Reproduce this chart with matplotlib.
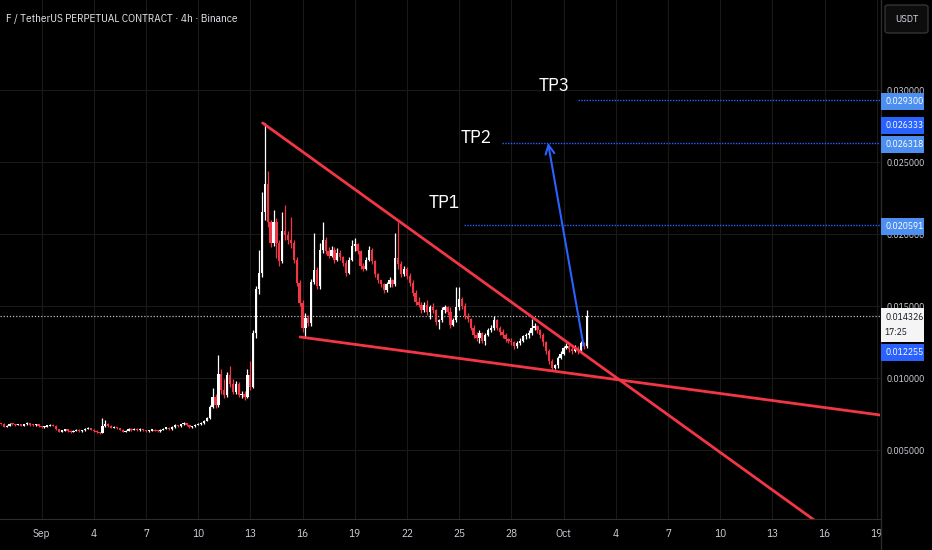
import numpy as np
import pandas as pd
import matplotlib
matplotlib.use("Agg")
import matplotlib.pyplot as plt
import matplotlib.dates as mdates
from matplotlib.patches import Rectangle, FancyBboxPatch
from matplotlib.lines import Line2D

plt.rcParams['font.family'] = ['IBM Plex Sans Condensed', 'DejaVu Sans']

# ---- data: 4h candles, prices in units of 0.0001 USDT ----
first_open = 68.2
closes = [
    67.8,
    66.2, 67.0, 68.3, 68.0, 67.4, 67.6, 67.0, 67.8, 68.6, 67.5, 67.2, 67.8, 66.6, 65.9, 66.3, 66.8, 67.5, 66.9,
    64.5, 62.8, 63.5, 64.4, 63.2, 62.6, 63.4, 64.1, 63.0, 63.8, 64.8, 65.1, 64.0, 63.2, 62.3, 61.8,
    66.5, 68.2, 66.8, 65.4,
    65.9, 65.2, 64.0, 62.6, 63.2, 64.6, 64.0, 64.8, 63.6, 64.5, 63.8, 62.9, 63.5, 64.2, 63.4, 63.0,
    64.0, 64.9, 65.4, 64.6, 66.0, 67.2, 66.4, 67.8, 68.6, 67.3, 65.8, 66.5, 67.4, 68.0,
    68.6, 70.2, 72.0, 80.0,
    87, 81, 103, 92, 88, 102, 96, 90, 96, 88, 89, 87, 102, 94, 131, 162, 173, 215, 235,
    208, 194, 208, 194, 181, 202, 199, 196, 194, 182,
    166, 152, 135, 142, 138, 167, 175, 164, 189, 196,
    188, 185, 189, 182, 187, 184, 180, 173, 182, 192,
    193, 188, 178, 176, 182, 189, 181, 172, 168,
    165, 161, 165, 168, 165, 183, 179, 172, 176, 171,
    166, 159, 153, 151, 147, 151, 146, 149, 147,
    139, 140, 147, 149, 146, 137, 140, 149, 155,
    150, 143, 141, 135, 130, 128, 131, 126, 130, 133,
    135, 140, 135, 132, 130, 127, 126, 125, 122, 124, 126,
    129, 130, 131, 135, 136, 133, 130, 125, 119, 112, 107,
    109, 114, 117, 121, 122, 120, 119, 121, 119, 124,
    122, 143.26,
]
highs = [
    68.4,
    68.9, 67.6, 68.8, 68.7, 68.2, 68.1, 67.8, 68.3, 69.4, 68.8, 67.9, 68.3, 67.9, 66.9, 66.8, 67.3, 68.2, 67.8,
    67.2, 64.8, 64.0, 64.8, 64.6, 63.6, 63.9, 64.6, 64.3, 64.2, 65.3, 65.8, 65.4, 64.4, 63.6, 62.7,
    72.0, 71.0, 69.0, 67.2,
    66.6, 66.3, 65.6, 64.4, 63.8, 65.2, 65.0, 65.4, 65.1, 65.0, 64.9, 64.0, 63.9, 64.8, 64.6, 63.8,
    64.5, 65.6, 66.1, 65.8, 66.6, 67.8, 67.6, 68.4, 69.6, 68.9, 67.6, 66.9, 67.9, 68.6,
    69.4, 71.0, 73.2, 81.0,
    93, 89, 116, 106, 99, 104, 108, 99, 98, 97, 91, 91, 106, 112, 133, 164, 189, 229, 277,
    244, 210, 217, 211, 196, 215, 220, 202, 212, 196,
    184, 168, 154, 145, 144, 169, 201, 177, 194, 208,
    198, 191, 192, 191, 190, 189, 185, 182, 184, 196,
    197, 194, 189, 180, 184, 192, 190, 182, 173,
    168, 166, 167, 170, 169, 201, 208, 181, 178, 177,
    173, 168, 161, 156, 153, 153, 154, 151, 152,
    148, 141, 149, 151, 150, 149, 142, 163, 163,
    156, 152, 145, 142, 137, 132, 133, 132, 131, 135,
    137, 143, 141, 136, 134, 131, 128, 128, 126, 126, 128,
    130, 131, 133, 141, 138, 137, 134, 131, 126, 120, 113,
    110, 115, 119, 122, 124, 123, 122, 123, 122, 126,
    125, 147,
]
lows = [
    67.2,
    65.8, 65.9, 66.6, 67.5, 67.0, 67.1, 66.6, 66.7, 67.5, 67.0, 66.8, 66.9, 66.2, 65.4, 65.6, 66.0, 66.5, 66.4,
    64.0, 62.3, 62.5, 63.2, 62.8, 62.1, 62.3, 63.0, 62.6, 62.7, 63.5, 64.4, 63.6, 62.8, 61.9, 61.3,
    61.5, 65.8, 66.2, 65.0,
    65.1, 64.7, 63.6, 62.2, 62.2, 62.9, 63.5, 63.6, 63.1, 63.3, 63.3, 62.5, 62.6, 63.2, 63.0, 62.6,
    62.8, 63.7, 64.6, 64.2, 64.2, 65.6, 66.0, 66.2, 67.6, 67.0, 65.4, 65.4, 66.1, 67.1,
    67.6, 68.2, 69.8, 71.5,
    79, 79, 80, 89, 86, 87, 94, 89, 89, 87, 86, 85, 86, 92, 93, 128, 158, 170, 210,
    205, 191, 192, 183, 178, 180, 196, 193, 190, 180,
    164, 150, 132, 128, 136, 136, 165, 162, 162, 187,
    186, 183, 184, 180, 181, 182, 178, 171, 172, 181,
    188, 186, 176, 174, 175, 181, 179, 170, 166,
    163, 159, 160, 163, 163, 164, 176, 170, 171, 169,
    164, 157, 151, 149, 145, 146, 144, 141, 145,
    137, 134, 139, 145, 144, 135, 136, 139, 147,
    148, 141, 139, 133, 128, 126, 124, 124, 123, 129,
    132, 133, 133, 130, 128, 125, 124, 123, 120, 121, 123,
    125, 127, 128, 130, 133, 131, 128, 122, 117, 110, 105,
    106, 107, 113, 116, 120, 118, 117, 118, 117, 118,
    120, 121,
]
last_candle_time = '2025-10-02 08:00'

tp_names = ['TP1', 'TP2', 'TP3']
tp_levels = [0.020591, 0.026318, 0.029300]
tp_start = ['2025-09-25 06:45', '2025-09-27 11:15', '2025-10-01 20:00']
tp_label_time = ['2025-09-24 03:00', '2025-09-25 23:20', '2025-09-30 10:50']
tp_label_price = [0.02215, 0.02670, 0.03031]

upper_line = [('2025-09-13 17:00', 0.02771), ('2025-10-16 08:00', -0.00067)]
lower_line = [('2025-09-15 20:40', 0.012847), ('2025-10-20 00:00', 0.00730)]
arrow_from = ('2025-10-02 03:36', 0.012255)
arrow_to = ('2025-09-30 02:40', 0.026333)
countdown = '17:25'

price_ticks = [0.005, 0.010, 0.015, 0.020, 0.025, 0.030]
date_ticks = ['2025-09-01', '2025-09-04', '2025-09-07', '2025-09-10', '2025-09-13',
              '2025-09-16', '2025-09-19', '2025-09-22', '2025-09-25', '2025-09-28',
              '2025-10-01', '2025-10-04', '2025-10-07', '2025-10-10', '2025-10-13',
              '2025-10-16', '2025-10-19']
date_labels = ['Sep', '4', '7', '10', '13', '16', '19', '22', '25', '28',
               'Oct', '4', '7', '10', '13', '16', '19']

# ---- styles ----
BG = '#000000'
UP = '#ffffff'
DOWN = '#f23645'
TXT = '#d1d4dc'
GRID = '#1b1916'
SEP = '#2c2c2c'
BLUE = '#2962ff'
LBLUE = '#4d8ff0'

W, H = 932, 550
fig = plt.figure(figsize=(W / 100, H / 100), dpi=100, facecolor=BG)
ax = fig.add_axes([0, 31 / H, 880 / W, 519 / H])
ax.set_facecolor(BG)

c = np.array(closes) * 1e-4
h = np.array(highs) * 1e-4
l = np.array(lows) * 1e-4
o = np.r_[first_open * 1e-4, c[:-1]]
times = pd.date_range(end=last_candle_time, periods=len(c), freq='4h')
x = mdates.date2num(times)
up = c >= o

bw = 0.8 * 4 / 24
for m, col in ((up, UP), (~up, DOWN)):
    ax.vlines(x[m], l[m], h[m], color=col, lw=0.9, zorder=3)
    body = np.maximum(np.abs(c[m] - o[m]), 0.00008)
    ax.bar(x[m], body, bottom=np.minimum(o[m], c[m]), width=bw, color=col,
           linewidth=0, zorder=4)

sep1 = mdates.date2num(pd.Timestamp('2025-09-01'))
ax.set_xlim(sep1 - 41.5 / 17.4, sep1 + (880 - 41.5) / 17.4)
ax.set_ylim(3 / 14400, 522 / 14400)

ax.set_xticks(mdates.date2num(pd.to_datetime(date_ticks)))
ax.set_xticklabels(date_labels)
ax.set_yticks(price_ticks)
ax.set_yticklabels([f'{v:.6f}' for v in price_ticks])
ax.yaxis.tick_right()
ax.tick_params(axis='x', length=0, pad=7, labelsize=8, colors=TXT)
ax.tick_params(axis='y', length=0, pad=4.5, labelsize=6.8, colors=TXT)
ax.grid(True, color=GRID, lw=0.8, zorder=0)
for s in ('top', 'left', 'right'):
    ax.spines[s].set_visible(False)
ax.spines['bottom'].set_color(SEP)
fig.add_artist(Line2D([880.5 / W] * 2, [0, 1], color=SEP, lw=1))

# trend lines
for line in (upper_line, lower_line):
    ts = mdates.date2num(pd.to_datetime([p[0] for p in line]))
    ax.plot(ts, [p[1] for p in line], color=DOWN, lw=2, solid_capstyle='round', zorder=5)

# current price and targets
ax.axhline(c[-1], color='#bdbdbd', ls=(0, (1, 1.5)), lw=0.9, zorder=2)
right = ax.get_xlim()[1]
for lvl, st in zip(tp_levels, tp_start):
    ax.hlines(lvl, mdates.date2num(pd.Timestamp(st)), right, color=BLUE,
              ls=(0, (1, 1)), lw=1.0, zorder=2)
for name, t, p in zip(tp_names, tp_label_time, tp_label_price):
    ax.text(mdates.date2num(pd.Timestamp(t)), p, name, color='white', fontsize=14,
            ha='center', va='center', zorder=6)

ax.annotate('', xy=(mdates.date2num(pd.Timestamp(arrow_to[0])), arrow_to[1]),
            xytext=(mdates.date2num(pd.Timestamp(arrow_from[0])), arrow_from[1]),
            arrowprops=dict(arrowstyle='->', color=BLUE, lw=1.5, mutation_scale=16,
                            shrinkA=0, shrinkB=0), zorder=6)

# title
fig.text(6 / W, 1 - 19 / H, 'F / TetherUS PERPETUAL CONTRACT · 4h · Binance',
         color='#e6e8ee', fontsize=8, va='center', ha='left')


# price axis tags
def tag(price, label, face, tcol, dy=0, hgt=17, sub=None):
    ypx = ax.transData.transform((0, price))[1] - dy
    bot = ypx - hgt / 2 if sub is None else ypx - hgt + 8
    fig.add_artist(Rectangle((881 / W, bot / H), 43 / W, hgt / H,
                             transform=fig.transFigure, facecolor=face,
                             edgecolor='none', zorder=5))
    ty = ypx if sub is None else ypx - 2
    fig.text(885 / W, ty / H, label, color=tcol, fontsize=6.8, va='center',
             ha='left', zorder=6)
    if sub is not None:
        fig.text(885 / W, (ty - 15) / H, sub, color=tcol, fontsize=6.8,
                 va='center', ha='left', zorder=6)


tag(tp_levels[2], f'{tp_levels[2]:.6f}', LBLUE, 'white', dy=1.4)
tag(arrow_to[1], f'{arrow_to[1]:.6f}', BLUE, 'white', dy=-17.3)
tag(tp_levels[1], f'{tp_levels[1]:.6f}', LBLUE, 'white', dy=1.5)
tag(tp_levels[0], f'{tp_levels[0]:.6f}', LBLUE, 'white', dy=1.5)
tag(c[-1], f'{c[-1]:.6f}', '#f5f5f5', '#131722', hgt=34, sub=countdown)
tag(arrow_from[1], f'{arrow_from[1]:.6f}', BLUE, 'white', dy=6.5)

fig.add_artist(FancyBboxPatch((885 / W, 1 - 33 / H), 43 / W, 28 / H,
                              boxstyle='round,pad=0,rounding_size=0.004',
                              transform=fig.transFigure, facecolor='#0d0d0d',
                              edgecolor='#333333', lw=1, zorder=5))
fig.text(906.5 / W, 1 - 19 / H, 'USDT', color=TXT, fontsize=7.5, ha='center',
         va='center', zorder=6)

fig.savefig('out.png', dpi=100, facecolor=BG)
